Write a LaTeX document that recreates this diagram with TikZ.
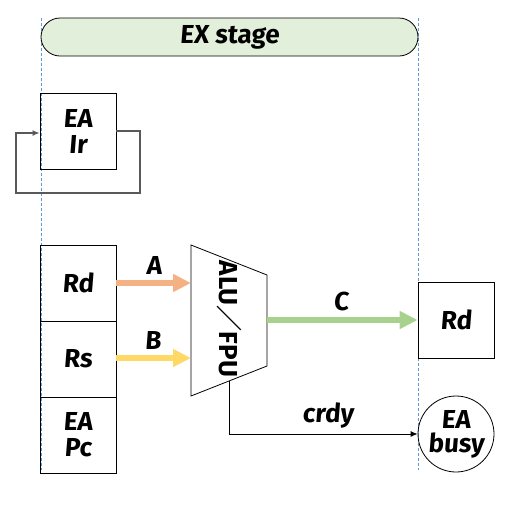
\documentclass[tikz,border=0pt]{standalone}
\usepackage{fontspec}
\setmainfont{Fira Sans}
\newfontfamily\lblfont[FakeSlant=0.08]{Fira Sans}
\newfontfamily\cjkfont{Noto Sans CJK JP}
\usetikzlibrary{arrows.meta,shapes.geometric}
\definecolor{pillgreen}{HTML}{E2EFDA}
\definecolor{aorange}{HTML}{F4B183}
\definecolor{byellow}{HTML}{FFD966}
\definecolor{cgreen}{HTML}{A9D18E}
\definecolor{guide}{HTML}{5B9BD5}
\definecolor{fbgray}{HTML}{595959}
\tikzset{
  lbl/.style={font=\fontsize{26}{26}\lblfont\bfseries},
  reg/.style={draw,line width=0.8pt,minimum width=76pt,minimum height=76pt,inner sep=0pt,align=center,lbl},
  fat/.style={line width=6pt,-{Triangle[width=17pt,length=18pt]}},
  thin/.style={line width=0.9pt,-{Latex[length=7pt,width=6pt]}}
}
\begin{document}
\begin{tikzpicture}[x=1pt,y=-1pt]
\useasboundingbox (0,0) rectangle (512,512);
% guides
\draw[guide,line width=0.6pt,dash pattern=on 3pt off 2pt] (41,18) -- (41,470);
\draw[guide,line width=0.6pt,dash pattern=on 3pt off 2pt] (418,18) -- (418,470);
% stage pill
\node[draw,fill=pillgreen,line width=0.8pt,rounded corners=19pt,minimum width=377pt,minimum height=38pt,inner sep=0pt,lbl] (stage) at (229.5,37) {EX stage};
% EA Ir
\node[reg] (ir) at (78,131) {EA\\Ir};
\coordinate (fb1) at (140,131);
\coordinate (fb2) at (140,193);
\coordinate (fb3) at (16,193);
\coordinate (fb4) at (16,133);
\draw[fbgray,line width=1.4pt,-{Latex[length=7pt,width=6pt]}] (ir.east |- fb1) -- (fb1) -- (fb2) -- (fb3) -- (fb4) -- (ir.west |- fb4);
% registers
\node[reg] (rd) at (78,283) {Rd};
\node[reg] (rs) at (78,359) {Rs};
\node[reg] (pc) at (78,435) {EA\\Pc};
% ALU
\coordinate (t1) at (191,245);
\coordinate (t2) at (267,275);
\coordinate (t3) at (267,366);
\coordinate (t4) at (191,396);
\draw[line width=0.8pt] (t1) -- (t2) -- (t3) -- (t4) -- cycle;
\node[font=\fontsize{26}{26}\selectfont\bfseries,rotate=-90,inner sep=0pt] (alu) at (229,319) {ALU{\cjkfont\bfseries ／}FPU};
\coordinate (ina) at (191,283);
\coordinate (inb) at (191,358);
\coordinate (outc) at (267,320);
\coordinate (crdyout) at (229,381);
% output
\node[reg] (rdo) at (456,320) {Rd};
\node[draw,circle,line width=0.8pt,minimum size=76pt,inner sep=0pt,align=center,font=\fontsize{26}{24}\lblfont\bfseries] (busy) at (456,434) {EA\\busy};
% arrows
\draw[aorange,fat] (rd.east |- ina) -- (ina);
\draw[byellow,fat] (rs.east |- inb) -- (inb);
\draw[cgreen,fat] (outc) -- (rdo.west |- outc);
\draw[thin] (crdyout) |- (busy.west);
% labels
\node[lbl] (la) at (154,265) {A};
\node[lbl] (lb) at (153,340) {B};
\node[lbl] (lc) at (341,301) {C};
\node[lbl] (lcrdy) at (328,416) {crdy};
\end{tikzpicture}
\end{document}
